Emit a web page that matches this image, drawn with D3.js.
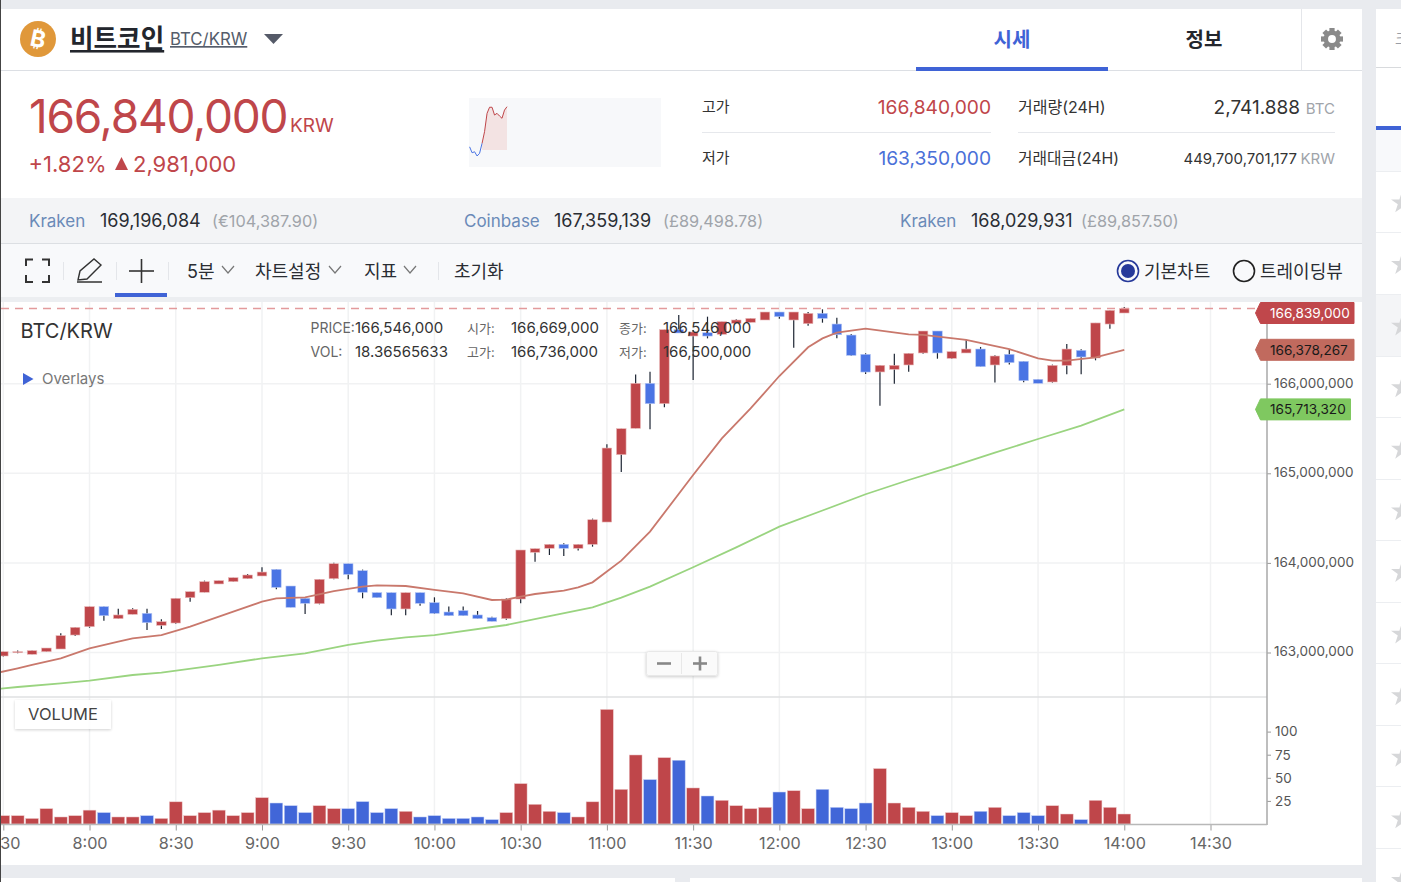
<!DOCTYPE html>
<html>
<head>
<meta charset="utf-8">
<script src="https://cdn.jsdelivr.net/npm/d3@7"></script>
<style>
  body { margin: 0; background: #e9ebef; overflow: hidden; }
  svg { display: block; }
  text { font-family: Inter, "Noto Sans CJK KR", sans-serif; }
</style>
</head>
<body>
<svg id="page" width="1401" height="882"></svg>
<script>
// price values are in thousand KRW, one row per hour, 5 minute candles from 7:30
const opens = [162961,162998,162980,163009,163039,163195,
  163288,163512,163378,163426,163437,163303,163329,163612,163672,163765,163791,163824,
  163854,163928,163742,163605,163545,163824,163991,163913,163668,163668,163486,163668,
  163556,163452,163467,163419,163389,163378,163597,164118,164163,164207,164163,164207,
  164456,165208,165502,166004,165777,166603,166532,166569,166551,166674,166685,166711,
  166800,166711,166670,166785,166666,166543,166328,166131,166160,166209,166343,166588,
  166283,166343,166387,166209,166328,166250,166049,166019,166205,166372,166287,166666,
  166789];
const highs = [163009,163021,163021,163050,163214,163281,
  163512,163512,163489,163493,163489,163370,163605,163679,163802,163802,163835,163876,
  163951,163928,163742,163605,163817,164003,163991,163925,163668,163668,163668,163668,
  163616,163512,163512,163463,163400,163605,164144,164159,164207,164218,164207,164494,
  165323,165498,166104,166134,166603,166767,166599,166748,166692,166718,166729,166800,
  166800,166800,166800,166830,166737,166555,166339,166205,166335,166339,166588,166588,
  166358,166484,166410,166317,166384,166250,166049,166213,166443,166384,166678,166819,
  166855];
const lows = [162954,162991,162980,163009,163039,163184,
  163277,163355,163378,163426,163251,163262,163322,163567,163672,163765,163791,163824,
  163854,163705,163504,163430,163538,163817,163817,163605,163612,163415,163415,163523,
  163430,163411,163411,163378,163348,163366,163549,164014,164088,164077,164137,164181,
  164456,165014,165502,165491,165736,166566,166041,166506,166551,166674,166685,166711,
  166726,166402,166648,166681,166506,166309,166108,165755,166000,166134,166335,166279,
  166276,166343,166190,166012,166213,166015,166004,166012,166105,166105,166261,166614,
  166789];
const closes = [163009,163009,163021,163050,163188,163281,
  163512,163411,163419,163482,163333,163344,163605,163679,163791,163802,163835,163865,
  163898,163727,163504,163549,163817,163991,163872,163672,163612,163486,163668,163549,
  163437,163411,163411,163378,163348,163597,164144,164159,164207,164163,164207,164482,
  165282,165498,166004,165777,166603,166566,166577,166532,166692,166711,166729,166800,
  166748,166800,166785,166729,166547,166316,166130,166205,166205,166339,166588,166343,
  166358,166387,166190,166309,166235,166034,166004,166205,166387,166298,166678,166819,
  166839];
const volumes = [9,9,6,16.6,7.6,9,
  15,12.3,7.6,7.6,9,6,24,9,12.3,15,9,12.3,
  28.5,22.7,19.8,12.3,19.8,16.6,16.6,24.2,12.3,16.6,13.7,7.6,
  9,6,6,7.6,4.7,12.3,43.7,21.3,13.7,12.3,7.6,24,
  124,37.5,74.7,48,71.8,69,39,30.3,25.6,19.8,16.6,18,
  34.6,36,16.6,37.5,18,16.6,22.7,60,22.7,18,13.7,9,
  12.3,9,13.7,18,9,12.3,9,19.8,10.8,4.7,25.6,18,
  10.8];

// moving averages, read at the points where the line visibly bends
const maShortTimes = ["7:25","7:35","7:40","7:50","8:00","8:10","8:15","8:25","8:35","8:50","9:00","9:05","9:15","9:25","9:35","9:40","9:50","10:00",
  "10:10","10:20","10:25","10:30","10:35","10:45","10:50","10:55","11:05","11:15","11:30","11:40","11:50","12:00","12:10","12:15","12:20","12:30",
  "12:45","12:50","13:05","13:20","13:30","13:35","13:40","13:50","14:00"];
const maShortValues = [162753,162823,162861,162935,163047,163121,163158,163195,163288,163456,163567,163605,163616,163686,163735,163750,163742,163698,
  163660,163586,163590,163623,163653,163690,163727,163783,164025,164349,164981,165390,165725,166086,166406,166506,166569,166615,
  166551,166544,166488,166387,166283,166257,166257,166294,166378];
const maLongTimes = ["7:25","7:35","7:50","8:00","8:15","8:25","8:45","9:00","9:15","9:30","9:40","9:50","10:00","10:25","10:40","10:55","11:05","11:15",
  "11:30","11:45","12:00","12:15","12:30","12:45","13:00","13:15","13:30","13:45","14:00"];
const maLongValues = [162582,162615,162656,162686,162749,162775,162861,162935,162991,163084,163132,163169,163195,163307,163407,163504,163612,163735,
  163951,164174,164404,164585,164766,164925,165074,165230,165383,165532,165713];

const priceTicks = [163000, 164000, 165000, 166000];
const volumeTicks = [25, 50, 75, 100];
const timeLabels = ["7:30","8:00","8:30","9:00","9:30","10:00","10:30","11:00","11:30","12:00","12:30","13:00","13:30","14:00","14:30"];
const lastPrice = 166839, maShortLast = 166378.267, maLongLast = 165713.320;

// little 24h chart in the header, million KRW
const sparkValues = [164.0,163.58,163.65,163.35,163.54,164.25,165.07,166.37,166.8,166.8,166.25,166.37,166.18,166.02,166.6,166.84];
const sparkBase = 163.78;

const red = "#bf464a", blue = "#4a74e4", volBlue = "#4166d8", maRed = "#c9786c", maGreen = "#9ad480";
const fmt = d3.format(",");
const fmtK = (d) => fmt(Math.round(d * 1000));

let svg = d3.select("#page");
let defs = svg.append("defs");
defs.append("clipPath").attr("id", "plot").append("rect").attr("x", 1).attr("y", 302).attr("width", 1266).attr("height", 395);
defs.append("clipPath").attr("id", "page-left").append("rect").attr("x", 1).attr("y", 0).attr("width", 1361).attr("height", 882);
defs.append("clipPath").attr("id", "side").append("rect").attr("x", 1376).attr("y", 9).attr("width", 25).attr("height", 873);
let shadow = defs.append("filter").attr("id", "shadow").attr("x", "-10%").attr("y", "-20%").attr("width", "120%").attr("height", "150%");
shadow.append("feDropShadow").attr("dx", 0).attr("dy", 1).attr("stdDeviation", 1.5).attr("flood-color", "#000").attr("flood-opacity", 0.2);

function rect(g, x, y, w, h, fill) {
  return g.append("rect").attr("x", x).attr("y", y).attr("width", w).attr("height", h).attr("fill", fill);
}
function hline(g, x1, x2, y, color, sw) {
  return g.append("line").attr("x1", x1).attr("x2", x2).attr("y1", y).attr("y2", y).attr("stroke", color).attr("stroke-width", sw || 1);
}
function vline(g, x, y1, y2, color, sw) {
  return g.append("line").attr("x1", x).attr("x2", x).attr("y1", y1).attr("y2", y2).attr("stroke", color).attr("stroke-width", sw || 1);
}
function label(g, x, y, str, size, color, opts) {
  opts = opts || {};
  return g.append("text").attr("x", x).attr("y", y).text(str)
    .attr("font-size", size + "px").attr("fill", color)
    .attr("font-weight", opts.weight || 400)
    .attr("text-anchor", opts.anchor || "start")
    .attr("letter-spacing", opts.spacing || 0)
    .attr("text-decoration", opts.deco || null);
}

// --- page panels
let bg = svg.append("g");
rect(bg, 1, 9, 1361, 856, "#fff");
rect(bg, 1, 878, 674, 4, "#fff");
rect(bg, 690, 878, 672, 4, "#fff");
rect(bg, 1376, 9, 25, 873, "#fff");
rect(bg, 0, 0, 1, 882, "#444");

// --- side panel, cut off by the window
let side = svg.append("g").attr("clip-path", "url(#side)");
rect(side, 1376, 130, 25, 41, "#f8f9fb");
rect(side, 1376, 295, 25, 61, "#f4f5f7");
rect(side, 1376, 126, 25, 4, "#3f63d6");
hline(side, 1376, 1401, 67.5, "#d8dadd");
[171, 232, 294, 356, 417, 479, 540, 602, 663, 725, 786, 848].forEach((y) => hline(side, 1376, 1401, y + 0.5, "#eceef1"));
label(side, 1395, 44, "크", 15, "#9a9ea6");
d3.range(12).forEach((i) => {
  side.append("path").attr("d", d3.symbol(d3.symbolStar, 150)())
    .attr("transform", "translate(1402," + (203 + i * 61.6) + ")").attr("fill", "#d6d7d9");
});

// --- title row
let head = svg.append("g");
head.append("circle").attr("cx", 38).attr("cy", 39).attr("r", 18).attr("fill", "#e0983a");
label(head, 38, 47, "₿", 23, "#fff", { anchor: "middle", weight: 700 }).attr("transform", "rotate(12 38 39)");
label(head, 70, 48, "비트코인", 25.6, "#23262d", { weight: 700, deco: "underline" });
label(head, 170, 45, "BTC/KRW", 16.8, "#555d6b", { deco: "underline" });
head.append("path").attr("d", "M264,34H283L273.5,44Z").attr("fill", "#555a68");
hline(head, 1, 1362, 70.5, "#dcdfe4");
label(head, 1012, 47, "시세", 20, "#3f63d6", { anchor: "middle", weight: 700 });
label(head, 1204, 47, "정보", 20, "#23262d", { anchor: "middle", weight: 700 });
rect(head, 916, 67, 192, 4, "#3f63d6");
vline(head, 1301.5, 9, 70, "#e4e6ea");
let gear = head.append("g").attr("transform", "translate(1332,39)").attr("fill", "#8a8a8a");
d3.range(8).forEach((i) => {
  gear.append("rect").attr("x", -2.6).attr("y", -11).attr("width", 5.2).attr("height", 5).attr("transform", "rotate(" + i * 45 + ")");
});
gear.append("circle").attr("r", 6.2).attr("fill", "none").attr("stroke", "#8a8a8a").attr("stroke-width", 4.5);

// --- price block
label(head, 29, 133, "166,840,000", 46, red, { spacing: -1.2 });
label(head, 290, 132, "KRW", 19, red);
label(head, 28.5, 172, "+1.82%", 22, red);
head.append("path").attr("d", "M115,170L121.5,157L128,170Z").attr("fill", red);
label(head, 133, 172, "2,981,000", 22, red);

// --- sparkline
rect(head, 469, 98, 192, 69, "#f7f8fa");
let sparkX = d3.scaleLinear().domain([0, sparkValues.length - 1]).range([469.6, 507]);
let sparkY = d3.scaleLinear().domain([163.35, 166.84]).range([156, 106.7]);
let sparkPts = sparkValues.map((v, i) => [i, v]);
head.append("path").datum(sparkPts.slice(5))
  .attr("d", d3.area().x((d) => sparkX(d[0])).y0(sparkY(sparkBase)).y1((d) => sparkY(d[1])))
  .attr("fill", "#f3e3e3");
let sparkLine = d3.line().x((d) => sparkX(d[0])).y((d) => sparkY(d[1]));
head.append("path").datum(sparkPts.slice(0, 6)).attr("d", sparkLine).attr("fill", "none").attr("stroke", blue);
head.append("path").datum(sparkPts.slice(5)).attr("d", sparkLine).attr("fill", "none").attr("stroke", red);

// --- stats
label(head, 702, 112, "고가", 15, "#333");
label(head, 991, 114, "166,840,000", 19.2, red, { anchor: "end" });
hline(head, 702, 991, 132.5, "#e6e8ec");
label(head, 702, 163, "저가", 15, "#333");
label(head, 991, 165, "163,350,000", 19.2, "#4a70d8", { anchor: "end" });
label(head, 1018, 113, "거래량(24H)", 16, "#333");
label(head, 1300, 114, "2,741.888", 19, "#333", { anchor: "end" });
label(head, 1335, 114, "BTC", 15, "#a0a4aa", { anchor: "end" });
hline(head, 1018, 1335, 132.5, "#e6e8ec");
label(head, 1018, 164, "거래대금(24H)", 15.8, "#333");
label(head, 1297, 164, "449,700,701,177", 15, "#333", { anchor: "end" });
label(head, 1335, 164, "KRW", 15, "#a0a4aa", { anchor: "end" });

// --- other exchanges
rect(head, 1, 198, 1361, 45, "#f3f4f6");
hline(head, 1, 1362, 243.5, "#dcdfe3");
[["Kraken", "169,196,084", "(€104,387.90)", 29, 100, 212],
 ["Coinbase", "167,359,139", "(£89,498.78)", 464, 554, 663],
 ["Kraken", "168,029,931", "(£89,857.50)", 900, 971, 1081]].forEach((e) => {
  label(head, e[3], 227, e[0], 17, "#6a8ab8");
  label(head, e[4], 227, e[1], 18, "#2a2d33");
  label(head, e[5], 227, e[2], 16.3, "#a0a4aa");
});

// --- toolbar
let tool = svg.append("g");
rect(tool, 1, 244, 1361, 53, "#f8f9fb");
rect(tool, 1, 297, 1361, 5, "#eceef1");
rect(tool, 115, 293, 52, 4, "#3f63d6");
[63.5, 116.5, 168.5, 438.5].forEach((x) => vline(tool, x, 262, 280, "#e4e6ea"));
tool.append("path").attr("d", "M26,266V259.5H33M42,259.5H49V266M49,275V282H42M33,282H26V275")
  .attr("fill", "none").attr("stroke", "#333").attr("stroke-width", 2);
tool.append("path").attr("d", "M78,280L80,271L94,259L101,265L87,279ZM77,282H102")
  .attr("fill", "none").attr("stroke", "#333").attr("stroke-width", 1.4);
hline(tool, 129, 154, 271, "#333", 1.6);
vline(tool, 141.5, 259, 283, "#333", 1.6);
[["5분", 187, 222], ["차트설정", 255, 329], ["지표", 364, 404]].forEach((m) => {
  label(tool, m[1], 278, m[0], 18, "#2a2d33");
  tool.append("path").attr("d", "M" + m[2] + ",266l6,7l6,-7").attr("fill", "none").attr("stroke", "#777").attr("stroke-width", 1.2);
});
label(tool, 454, 278, "초기화", 18, "#2a2d33");
tool.append("circle").attr("cx", 1128).attr("cy", 271).attr("r", 10.5).attr("fill", "none").attr("stroke", "#26399a").attr("stroke-width", 1.6);
tool.append("circle").attr("cx", 1128).attr("cy", 271).attr("r", 7).attr("fill", "#26399a");
label(tool, 1144, 278, "기본차트", 18, "#2a2d33");
tool.append("circle").attr("cx", 1244).attr("cy", 271).attr("r", 10.5).attr("fill", "none").attr("stroke", "#222").attr("stroke-width", 1.6);
label(tool, 1260, 278, "트레이딩뷰", 18, "#2a2d33");

// --- scales
let parseTime = d3.timeParse("%H:%M");
let times = d3.timeMinute.range(parseTime("7:30"), parseTime("14:05"), 5);
let x = d3.scaleTime().domain([parseTime("7:30"), parseTime("14:30")]).range([3.3, 1210.5]);
let y = d3.scaleLinear().domain([163000, 166000]).range([652.5, 383.7]);
let yVol = d3.scaleLinear().domain([0, 100]).range([824, 731.6]);

let candles = times.map((t, i) => ({
  t: t, o: opens[i], h: highs[i], l: lows[i], c: closes[i], v: volumes[i], up: closes[i] >= opens[i]
}));

// --- grid
let grid = svg.append("g").attr("stroke", "#f1f2f3").attr("stroke-width", 1.5);
grid.selectAll("line.h").data(priceTicks).enter().append("line").attr("class", "h")
  .attr("x1", 1).attr("x2", 1267).attr("y1", (d) => y(d)).attr("y2", (d) => y(d));
grid.selectAll("line.v").data(timeLabels).enter().append("line").attr("class", "v")
  .attr("x1", (d) => x(parseTime(d))).attr("x2", (d) => x(parseTime(d)))
  .attr("y1", 302).attr("y2", 824);

// --- candles
let plot = svg.append("g").attr("clip-path", "url(#plot)");
plot.selectAll("line.wick").data(candles).enter().append("line").attr("class", "wick")
  .attr("x1", (d) => x(d.t)).attr("x2", (d) => x(d.t))
  .attr("y1", (d) => y(d.h)).attr("y2", (d) => y(d.l))
  .attr("stroke", "#1d2533").attr("stroke-width", 1.2);
plot.selectAll("rect.body").data(candles).enter().append("rect").attr("class", "body")
  .attr("x", (d) => x(d.t) - 4.8).attr("width", 9.6)
  .attr("y", (d) => y(Math.max(d.o, d.c)))
  .attr("height", (d) => Math.max(1, Math.abs(y(d.o) - y(d.c))))
  .attr("fill", (d) => (d.up ? red : blue))
  .attr("stroke", (d) => (d.up ? "#e9b9ba" : "#b5c6f3")).attr("stroke-width", 0.6);

// --- moving averages
let maLine = d3.line().x((d) => x(parseTime(d[0]))).y((d) => y(d[1]));
plot.append("path").datum(d3.zip(maLongTimes, maLongValues)).attr("d", maLine)
  .attr("fill", "none").attr("stroke", maGreen).attr("stroke-width", 1.8);
plot.append("path").datum(d3.zip(maShortTimes, maShortValues)).attr("d", maLine)
  .attr("fill", "none").attr("stroke", maRed).attr("stroke-width", 1.8);

// --- volume
let volG = svg.append("g").attr("clip-path", "url(#page-left)");
volG.selectAll("rect").data(candles).enter().append("rect")
  .attr("x", (d) => x(d.t) - 6.4).attr("width", 12.8)
  .attr("y", (d) => yVol(d.v)).attr("height", (d) => yVol(0) - yVol(d.v))
  .attr("fill", (d) => (d.up ? red : volBlue))
  .attr("stroke", (d) => (d.up ? "#edc9ca" : "#c0cef5")).attr("stroke-width", 0.5);

// --- axes
hline(svg, 1, 1267, 697, "#dfe0e2", 1.5);
let yAxis = svg.append("g").attr("transform", "translate(1267,0)")
  .call(d3.axisRight(y).tickValues(priceTicks).tickSize(4).tickPadding(3).tickFormat(fmtK));
let volAxis = svg.append("g").attr("transform", "translate(1267,0)")
  .call(d3.axisRight(yVol).tickValues(volumeTicks).tickSize(4).tickPadding(4));
let xAxis = svg.append("g").attr("transform", "translate(0,824.5)")
  .call(d3.axisBottom(x).tickValues(timeLabels.map(parseTime)).tickSize(6).tickPadding(7)
    .tickFormat(d3.timeFormat("%-H:%M")));
[yAxis, volAxis, xAxis].forEach((a) => {
  a.select(".domain").remove();
  a.selectAll("line").attr("stroke", "#999");
  a.selectAll("text").attr("fill", "#555").attr("font-family", "Inter, sans-serif");
});
yAxis.selectAll("text").attr("font-size", "13.5px").attr("y", -1);
volAxis.selectAll("text").attr("font-size", "13.5px");
xAxis.selectAll("text").attr("font-size", "16.2px").attr("fill", "#666");
vline(svg, 1267, 302, 825, "#a8a8a8", 1.5);
hline(svg, 1, 1267, 824.5, "#b8b8b8", 1.5);

// --- last price line and value flags
hline(svg, 1, 1258, y(lastPrice), "#e39a9c", 1.5).attr("stroke-dasharray", "8,6");
function flag(value, width, fill, color) {
  // the flag stays inside the plot when the value is at the very top
  let cy = Math.max(y(value), 313);
  let g = svg.append("g").attr("transform", "translate(1255.5," + cy + ")");
  g.append("path").attr("d", "M0,0L5,-10.5H" + width + "V10.5H5Z").attr("fill", fill).attr("stroke", fill).attr("stroke-linejoin", "round");
  label(g, 14.5, 5, fmtK(value), 13.6, color);
}
flag(lastPrice, 98.5, "#c0474b", "#fff");
flag(maShortLast, 98.5, "#c16a5e", "#1a1a1a");
flag(maLongLast, 95, "#7fc860", "#1a1a1a");

// --- chart legend
let legend = svg.append("g");
label(legend, 20.5, 338, "BTC/KRW", 20, "#333");
label(legend, 310.5, 333, "PRICE:", 14, "#666");
label(legend, 355, 333, "166,546,000", 15, "#333");
label(legend, 310.5, 357, "VOL:", 14, "#666");
label(legend, 355, 357, "18.36565633", 15, "#333");
label(legend, 467, 333, "시가:", 13, "#666");
label(legend, 511, 333, "166,669,000", 15, "#333");
label(legend, 467, 357, "고가:", 13, "#666");
label(legend, 511, 357, "166,736,000", 15, "#333");
label(legend, 619, 333, "종가:", 13, "#666");
label(legend, 663, 333, "166,546,000", 15, "#333");
label(legend, 619, 357, "저가:", 13, "#666");
label(legend, 663, 357, "166,500,000", 15, "#333");
legend.append("path").attr("d", "M23,373L33.5,379L23,385Z").attr("fill", "#3f63d6");
label(legend, 42, 384, "Overlays", 15, "#777");

// --- zoom buttons
let zoomBox = svg.append("g");
rect(zoomBox, 646.5, 651.5, 71, 24, "#fafafa").attr("rx", 2).attr("stroke", "#e8e8e8").attr("filter", "url(#shadow)");
vline(zoomBox, 681.5, 653, 674, "#e8e8e8");
hline(zoomBox, 657, 671, 663.5, "#888", 2.6);
hline(zoomBox, 693, 707, 663.5, "#888", 2.6);
vline(zoomBox, 700, 656.5, 670.5, "#888", 2.6);

// --- volume tag
rect(svg, 15, 700, 96, 29, "#fff").attr("opacity", 0.92).attr("filter", "url(#shadow)");
label(svg, 63, 720, "VOLUME", 16.5, "#444", { anchor: "middle" });
</script>
</body>
</html>
